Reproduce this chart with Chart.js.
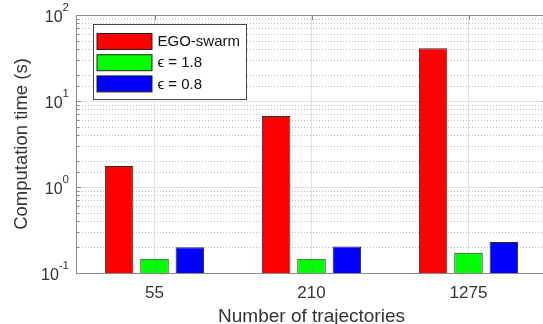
<!DOCTYPE html>
<html>
<head>
<meta charset="utf-8">
<script src="https://cdn.jsdelivr.net/npm/chart.js@4.4.1/dist/chart.umd.min.js"></script>
<style>
html,body{margin:0;padding:0;background:#fff;overflow:hidden;}
#wrap{width:560px;height:324px;}
</style>
</head>
<body>
<div id="wrap"><canvas id="c" width="560" height="324"></canvas></div>
<script>
const categories = ['55', '210', '1275'];
const seriesLabels = ['EGO-swarm', 'ϵ = 1.8', 'ϵ = 0.8'];
const egoSwarm = [1.75, 6.7, 41];
const eps18 = [0.146, 0.146, 0.172];
const eps08 = [0.199, 0.203, 0.229];
const yTickValues = [0.1, 1, 10, 100];
const yTickBase = ['10', '10', '10', '10'];
const yTickExp = ['-1', '0', '1', '2'];
const xTitle = 'Number of trajectories';
const yTitle = 'Computation time (s)';

const AXIS = '#8a8a8a';
const TXT = '#333333';
const FONT = '"Liberation Sans", Arial, sans-serif';

function isMajor(v) {
  const l = Math.log10(v);
  return Math.abs(l - Math.round(l)) < 1e-6;
}

const decor = {
  id: 'decor',
  beforeDatasetsDraw(chart) {
    const ctx = chart.ctx, y = chart.scales.y, a = chart.chartArea;
    ctx.save();
    ctx.strokeStyle = '#bcbcbc';
    ctx.lineWidth = 1;
    ctx.setLineDash([1, 2]);
    y.ticks.forEach(t => {
      if (isMajor(t.value)) return;
      const py = Math.round(y.getPixelForValue(t.value)) + 0.5;
      ctx.beginPath(); ctx.moveTo(a.left, py); ctx.lineTo(a.right, py); ctx.stroke();
    });
    ctx.restore();
  },
  afterDatasetsDraw(chart) {
    const ctx = chart.ctx, y = chart.scales.y, x = chart.scales.x, a = chart.chartArea;
    ctx.save();
    ctx.strokeStyle = AXIS;
    ctx.lineWidth = 1;
    // top and right border
    ctx.beginPath();
    ctx.moveTo(a.left, Math.round(a.top) + 0.5); ctx.lineTo(a.right, Math.round(a.top) + 0.5);
    ctx.moveTo(Math.round(a.right) + 0.5, a.top); ctx.lineTo(Math.round(a.right) + 0.5, a.bottom);
    ctx.stroke();
    // inward ticks on y
    y.ticks.forEach(t => {
      const py = Math.round(y.getPixelForValue(t.value)) + 0.5;
      const len = isMajor(t.value) ? 5 : 3;
      ctx.beginPath();
      ctx.moveTo(a.left, py); ctx.lineTo(a.left + len, py);
      ctx.moveTo(a.right, py); ctx.lineTo(a.right - len, py);
      ctx.stroke();
    });
    // inward ticks on x
    categories.forEach((c, i) => {
      const px = Math.round(x.getPixelForValue(i)) + 0.5;
      ctx.beginPath();
      ctx.moveTo(px, a.bottom); ctx.lineTo(px, a.bottom - 5);
      ctx.moveTo(px, a.top); ctx.lineTo(px, a.top + 5);
      ctx.stroke();
    });
    // y tick labels with superscript exponents
    ctx.fillStyle = TXT;
    ctx.textBaseline = 'middle';
    yTickValues.forEach((v, i) => {
      const py = y.getPixelForValue(v);
      ctx.font = '11.5px ' + FONT;
      const ew = ctx.measureText(yTickExp[i]).width;
      const right = 69;
      ctx.textAlign = 'right';
      ctx.fillText(yTickExp[i], right, py - 7);
      ctx.font = '16px ' + FONT;
      ctx.fillText(yTickBase[i], right - ew, py + 3);
    });
    // y title
    ctx.save();
    ctx.translate(22, (a.top + a.bottom) / 2);
    ctx.rotate(-Math.PI / 2);
    ctx.textAlign = 'center';
    ctx.textBaseline = 'middle';
    ctx.font = '18.5px ' + FONT;
    ctx.fillText(yTitle, 0, 0);
    ctx.restore();
    // legend
    const lx = a.left + 17.5, ly = a.top + 9.5, lw = 153, lh = 75;
    ctx.fillStyle = '#ffffff';
    ctx.fillRect(lx, ly, lw, lh);
    ctx.strokeStyle = '#444444';
    ctx.strokeRect(lx, ly, lw, lh);
    chart.data.datasets.forEach((ds, i) => {
      const sy = ly + 9 + i * 21.2;
      ctx.fillStyle = ds.backgroundColor;
      ctx.fillRect(lx + 3.5, sy, 55, 16);
      ctx.strokeStyle = '#222222';
      ctx.strokeRect(lx + 3.5, sy, 55, 16);
      ctx.fillStyle = '#111111';
      ctx.textAlign = 'left';
      ctx.textBaseline = 'middle';
      ctx.font = '15px ' + FONT;
      ctx.fillText(ds.label, lx + 64, sy + 8.5);
    });
    ctx.restore();
  }
};

new Chart(document.getElementById('c'), {
  type: 'bar',
  data: {
    labels: categories,
    datasets: [
      { label: seriesLabels[0], data: egoSwarm, backgroundColor: '#ff0000' },
      { label: seriesLabels[1], data: eps18, backgroundColor: '#00ff00' },
      { label: seriesLabels[2], data: eps08, backgroundColor: '#0000ff' }
    ]
  },
  options: {
    responsive: false,
    animation: false,
    devicePixelRatio: 1,
    layout: { padding: { top: 15, right: 13, bottom: 0, left: 0 } },
    datasets: {
      bar: {
        borderColor: '#2a2a2a',
        borderWidth: 1,
        borderSkipped: 'bottom',
        categoryPercentage: 0.676,
        barPercentage: 0.805
      }
    },
    plugins: { legend: { display: false }, tooltip: { enabled: false } },
    scales: {
      x: {
        offset: true,
        grid: { offset: false, color: '#e2e2e2', drawTicks: false },
        border: { color: AXIS, width: 1 },
        ticks: { color: TXT, font: { family: FONT, size: 17 }, padding: 10, maxRotation: 0 },
        title: { display: true, text: xTitle, color: TXT, font: { family: FONT, size: 19, lineHeight: 0.8 }, padding: 0 },
        afterFit(s) { s.height = 51; }
      },
      y: {
        type: 'logarithmic',
        min: 0.1,
        max: 100,
        grid: {
          color: c => (c.tick && isMajor(c.tick.value)) ? '#e2e2e2' : 'rgba(0,0,0,0)',
          drawTicks: false
        },
        border: { color: AXIS, width: 1 },
        ticks: { display: false },
        afterFit(s) { s.width = 76; }
      }
    }
  },
  plugins: [decor]
});
</script>
</body>
</html>
